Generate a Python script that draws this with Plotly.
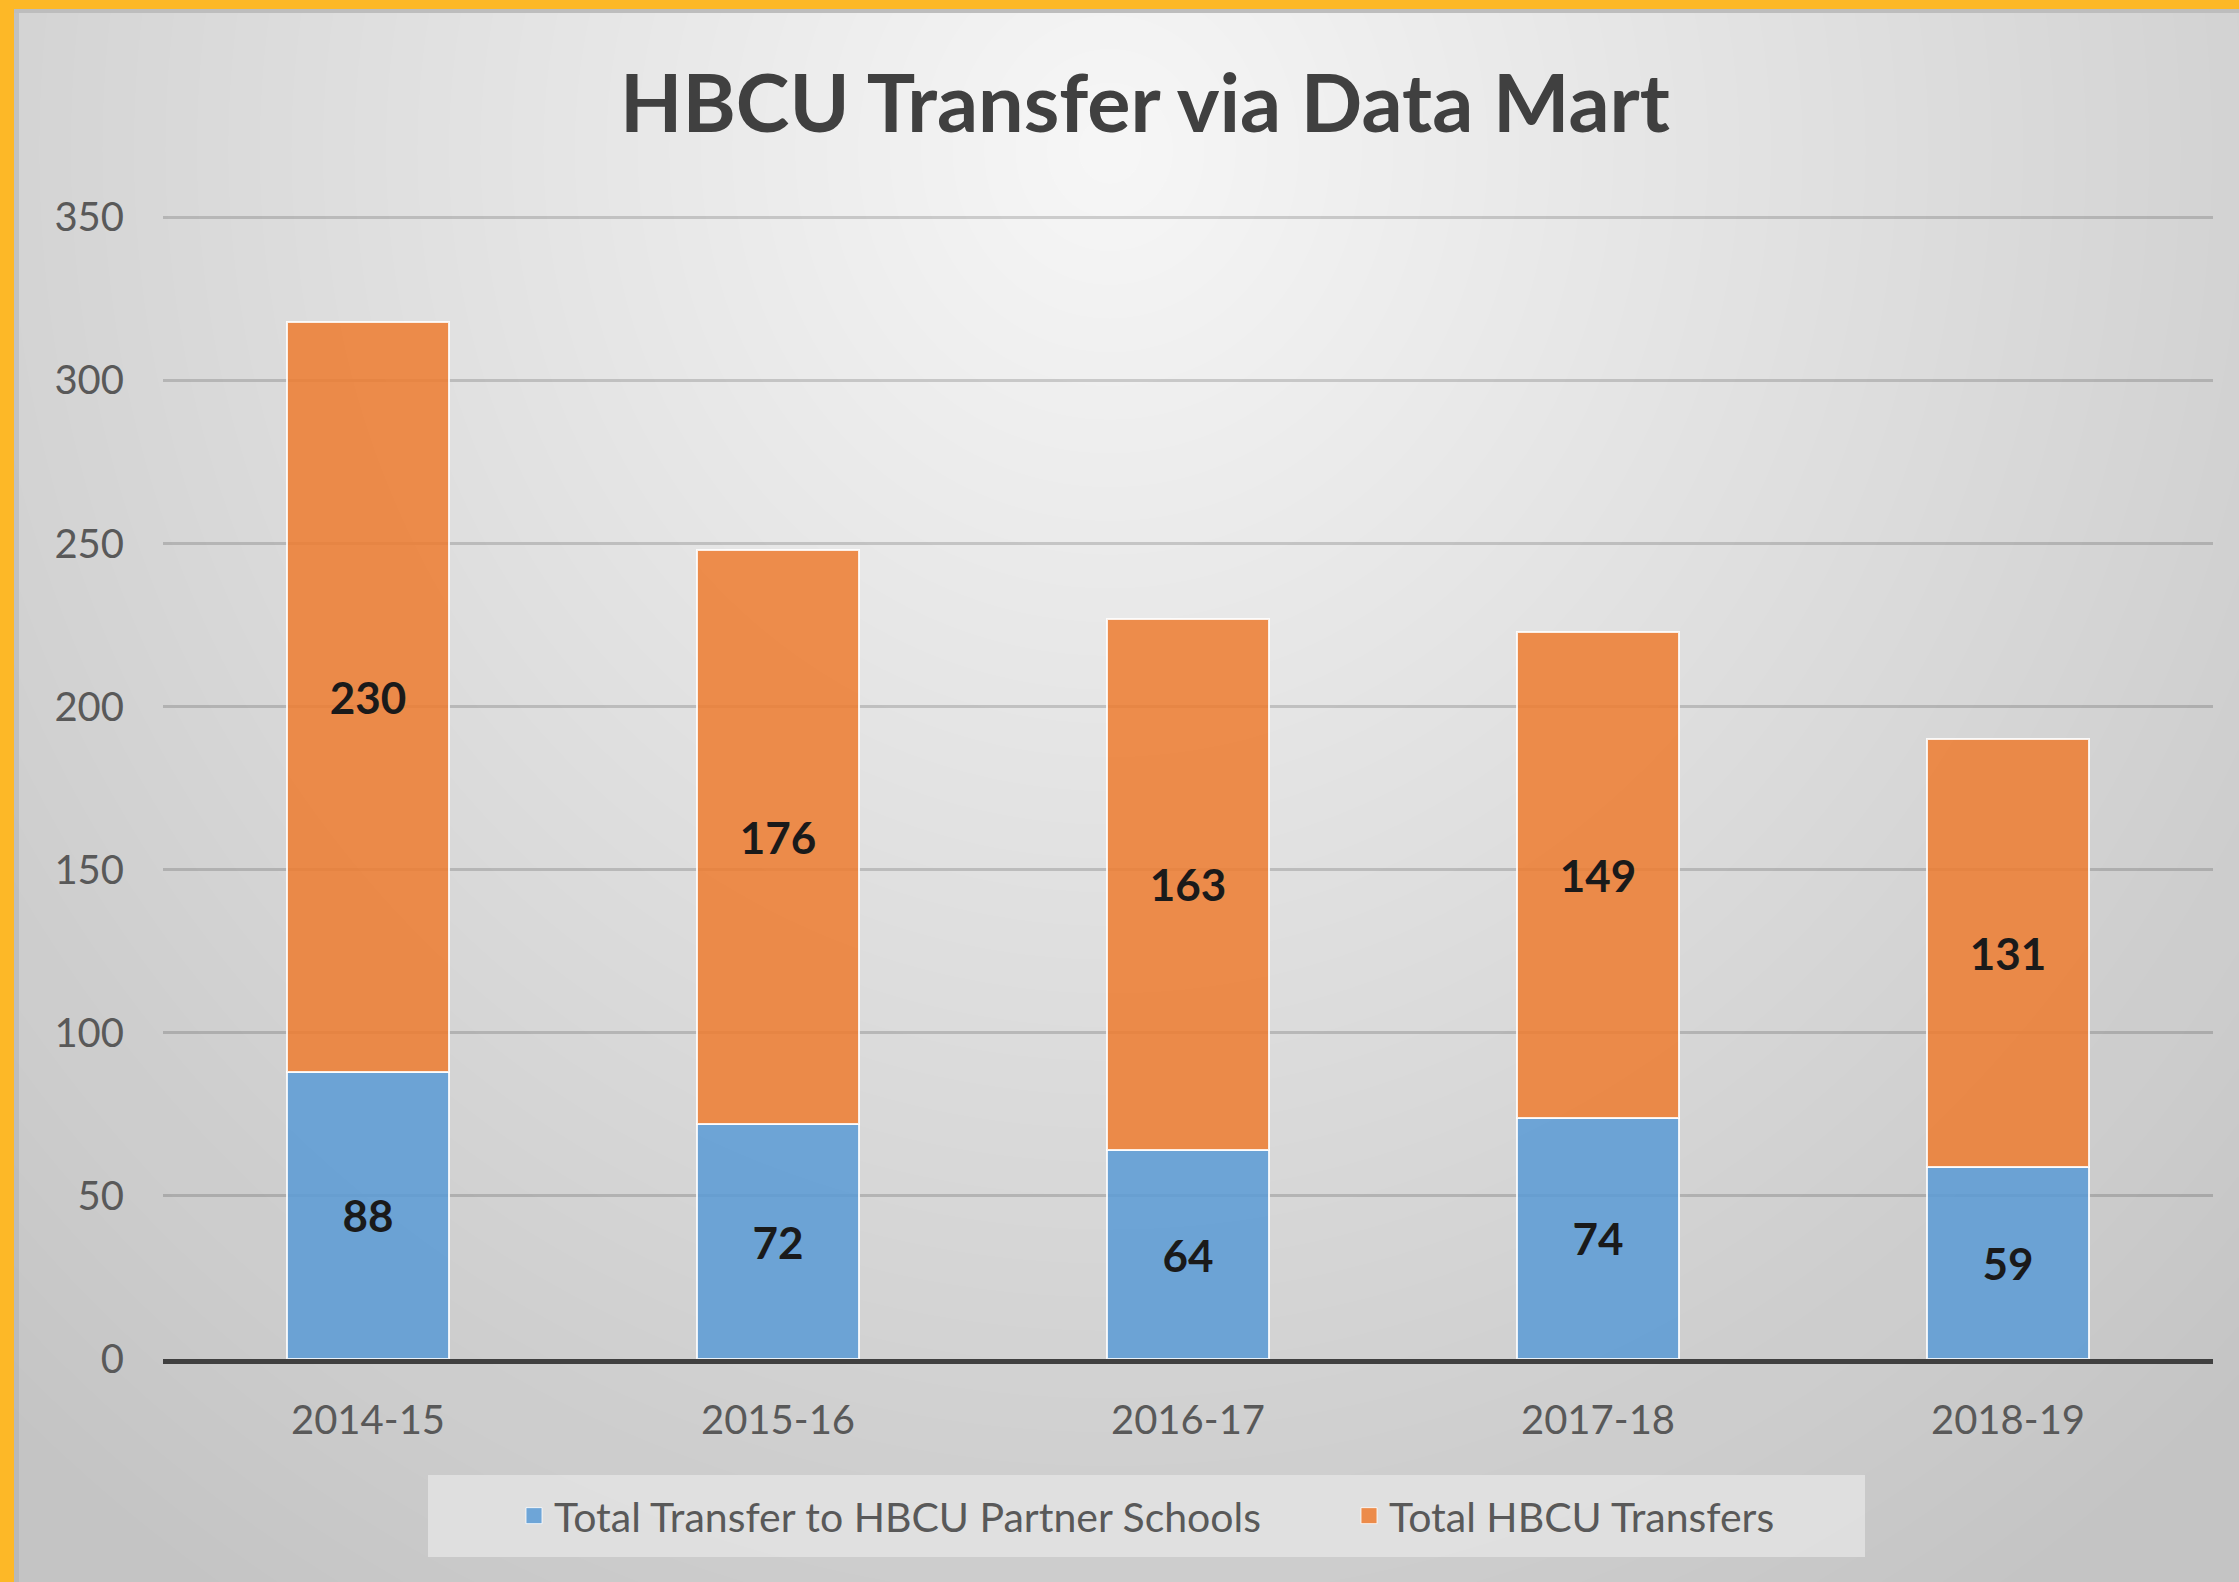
import math
import plotly.graph_objects as go

# ---------------- data ----------------
years = ["2014-15", "2015-16", "2016-17", "2017-18", "2018-19"]
partner_transfers = [88, 72, 64, 74, 59]
hbcu_transfers = [230, 176, 163, 149, 131]
series_names = ["Total Transfer to HBCU Partner Schools", "Total HBCU Transfers"]
y_ticks = [0, 50, 100, 150, 200, 250, 300, 350]
title_text = "HBCU Transfer via Data Mart"

# ---------------- geometry helpers ----------------
W, H = 2239, 1582
L, R, T, B = 163, 26, 216, 223
PW, PH = W - L - R, H - T - B


def px(x):
    return (x - L) / PW


def py(y):
    return (H - B - y) / PH


FONT = "Lato, 'Open Sans', sans-serif"
BLUE = "rgba(91,155,213,0.86)"
ORANGE = "rgba(237,125,49,0.86)"

fig = go.Figure()
for vals, name, col in [(partner_transfers, series_names[0], BLUE),
                        (hbcu_transfers, series_names[1], ORANGE)]:
    fig.add_trace(go.Bar(
        x=years, y=vals, name=name, showlegend=False,
        marker=dict(color=col, line=dict(color="rgba(255,255,255,0.85)", width=2)),
        text=vals, textposition="inside", insidetextanchor="middle",
        textfont=dict(family=FONT, size=44, color="#1a1a1a", weight="bold"),
        textangle=0,
    ))
# legend entries (square symbols)
for name, col in [(series_names[0], BLUE), (series_names[1], ORANGE)]:
    fig.add_trace(go.Scatter(
        x=[None], y=[None], mode="markers", name=name,
        marker=dict(symbol="square", size=16, color=col,
                    line=dict(color="rgba(255,255,255,0.8)", width=1)),
    ))

# ---------------- background gradient (radial) ----------------
shapes = []
base = 196
N = 54
FMAX = 1.35
CX, CY = 1110, 150
RX, RY = 1260, 1350
prev_O = 0.0
for k in range(N, 0, -1):
    f = FMAX * k / N
    target = 251 - 40 * f
    O = (target - base) / (255 - base)
    a = 1 - (1 - O) / (1 - prev_O)
    prev_O = O
    shapes.append(dict(
        type="circle", xref="paper", yref="paper", layer="below",
        x0=px(CX - RX * f), x1=px(CX + RX * f),
        y0=py(CY + RY * f), y1=py(CY - RY * f),
        fillcolor=f"rgba(255,255,255,{max(a, 0):.4f})", line=dict(width=0),
    ))

# legend box
shapes.append(dict(
    type="rect", xref="paper", yref="paper", layer="below",
    x0=px(428), x1=px(1865), y0=py(1557), y1=py(1475),
    fillcolor="rgba(230,230,230,0.75)", line=dict(width=0),
))

# orange frame (left & top) and shadow
shapes.append(dict(type="rect", xref="paper", yref="paper", layer="above",
                   x0=px(0), x1=px(W), y0=py(13), y1=py(9),
                   fillcolor="#bdbdbd", line=dict(width=0)))
shapes.append(dict(type="rect", xref="paper", yref="paper", layer="above",
                   x0=px(14), x1=px(19), y0=py(H), y1=py(13),
                   fillcolor="rgba(170,170,170,0.45)", line=dict(width=0)))
shapes.append(dict(type="rect", xref="paper", yref="paper", layer="above",
                   x0=px(-5), x1=px(W + 5), y0=py(9), y1=py(-5),
                   fillcolor="#fdb827", line=dict(width=0)))
shapes.append(dict(type="rect", xref="paper", yref="paper", layer="above",
                   x0=px(-5), x1=px(14), y0=py(H + 5), y1=py(-5),
                   fillcolor="#fdb827", line=dict(width=0)))

fig.update_layout(
    width=W, height=H,
    margin=dict(l=L, r=R, t=T, b=B),
    paper_bgcolor="#c4c4c4",
    plot_bgcolor="rgba(0,0,0,0)",
    barmode="stack",
    bargap=0.606,
    shapes=shapes,
    title=dict(
        text=title_text, x=1145 / W, xref="container", xanchor="center",
        y=1 - 104 / H, yref="container", yanchor="middle",
        font=dict(family=FONT, size=81, color="#404040", weight="bold"),
    ),
    legend=dict(
        orientation="h", x=px(514), xanchor="left", y=py(1516), yanchor="middle",
        bgcolor="rgba(0,0,0,0)", font=dict(family=FONT, size=41, color="#595959"),
        traceorder="normal", entrywidth=790, itemwidth=30,
    ),
    font=dict(family=FONT),
    xaxis=dict(
        showgrid=False, showline=True, linecolor="#404040", linewidth=5,
        tickfont=dict(family=FONT, size=40, color="#595959"),
        ticks="", ticklabelstandoff=22, fixedrange=True,
    ),
    yaxis=dict(
        range=[0, 350.4], tickvals=y_ticks, showgrid=True,
        gridcolor="rgba(0,0,0,0.16)", gridwidth=3, zeroline=False,
        showline=False, ticks="",
        tickfont=dict(family=FONT, size=40, color="#595959"),
        ticklabelstandoff=38, fixedrange=True,
    ),
)

fig.write_html("out.html")
